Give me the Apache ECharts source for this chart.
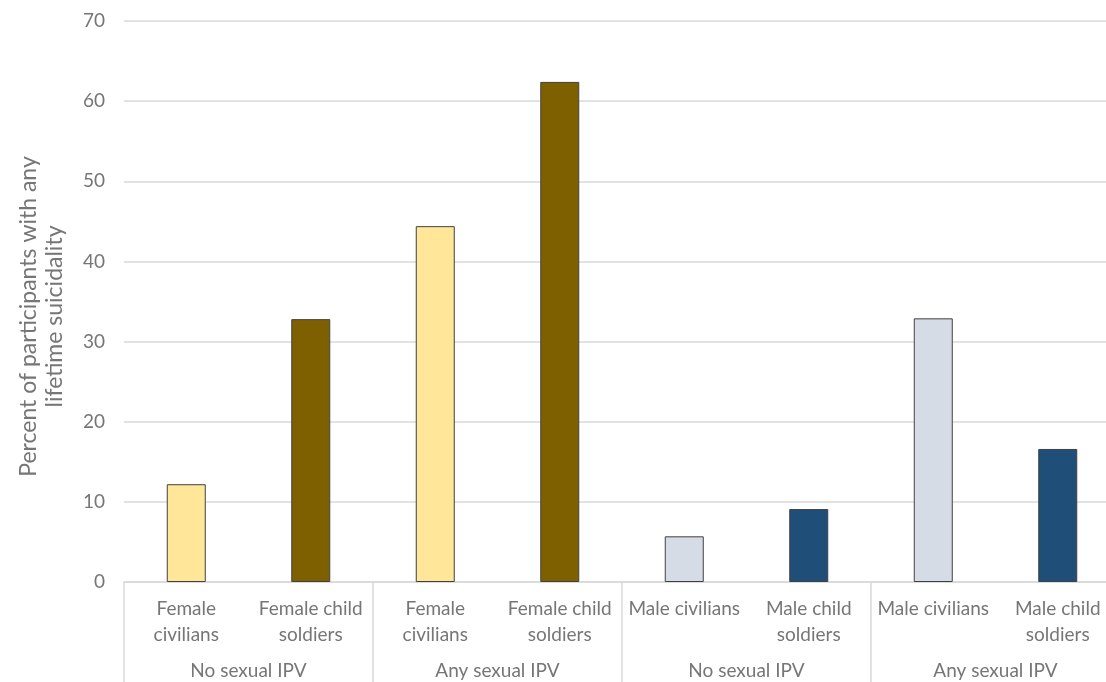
<!DOCTYPE html>
<html>
<head>
<meta charset="utf-8">
<script src="https://cdn.jsdelivr.net/npm/echarts@6/dist/echarts.min.js"></script>
<style>html,body{margin:0;padding:0;background:#fff;}#c{width:1106px;height:682px;}</style>
</head>
<body>
<div id="c"></div>
<script>
const categories = ["Female\ncivilians", "Female child\nsoldiers", "Female\ncivilians", "Female child\nsoldiers", "Male civilians", "Male child\nsoldiers", "Male civilians", "Male child\nsoldiers"];
const groups = ["No sexual IPV", "Any sexual IPV", "No sexual IPV", "Any sexual IPV"];
const values = [12.2, 32.8, 44.4, 62.4, 5.7, 9.1, 32.9, 16.6];
const barColors = ["#FFE699", "#7F6000", "#FFE699", "#7F6000", "#D6DCE5", "#1F4E79", "#D6DCE5", "#1F4E79"];
const yTicks = [0, 10, 20, 30, 40, 50, 60, 70];

const chart = echarts.init(document.getElementById('c'));
const font = 'Lato, "Open Sans", sans-serif';
const txt = '#767676';
chart.setOption({
  animation: false,
  grid: { left: 124, top: 21, width: 996, height: 561, containLabel: false, outerBoundsMode: 'none' },
  xAxis: [
    {
      type: 'category', data: categories, position: 'bottom',
      axisLine: { show: true, lineStyle: { color: '#d9d9d9', width: 1.5 } },
      axisTick: { show: false },
      axisLabel: { color: txt, fontSize: 19, fontFamily: font, lineHeight: 26, margin: 14, interval: 0 }
    },
    {
      type: 'category', data: groups, position: 'bottom',
      axisLine: { show: false },
      axisTick: { show: true, length: 110, lineStyle: { color: '#d9d9d9', width: 1.5 } },
      axisLabel: { color: txt, fontSize: 19, fontFamily: font, margin: 79, interval: 0 }
    }
  ],
  yAxis: {
    type: 'value', min: yTicks[0], max: yTicks[yTicks.length - 1], interval: 10,
    name: 'Percent of participants with any\nlifetime suicidality',
    nameLocation: 'middle', nameGap: 56,
    nameTextStyle: { color: txt, fontSize: 23, fontFamily: font, lineHeight: 26, padding: [0, 30, 0, 0] },
    axisLine: { show: false }, axisTick: { show: false },
    axisLabel: { color: txt, fontSize: 19, fontFamily: font, margin: 19 },
    splitLine: { lineStyle: { color: '#d9d9d9', width: 1.5 } }
  },
  series: [{
    type: 'bar', xAxisIndex: 0, barWidth: 39,
    data: values.map((v, i) => ({ value: v, itemStyle: { color: barColors[i] } })),
    itemStyle: { borderColor: '#404040', borderWidth: 1 }
  }]
});
</script>
</body>
</html>
